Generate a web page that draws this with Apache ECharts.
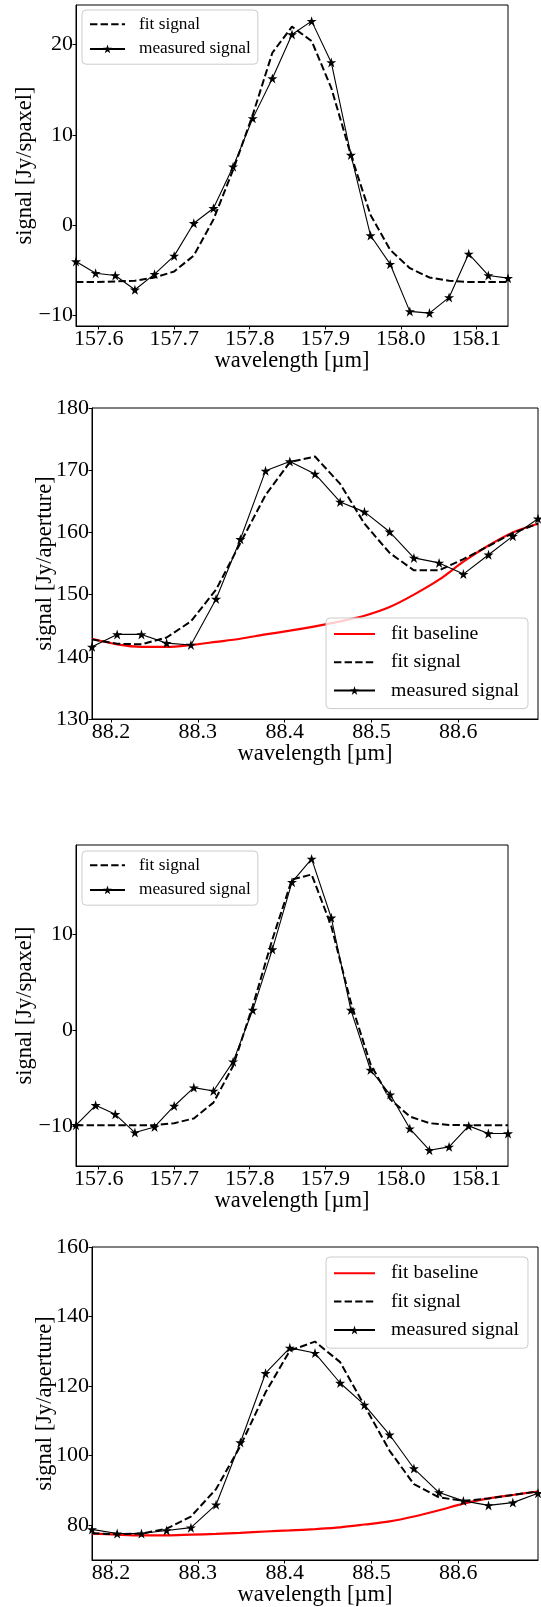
<!DOCTYPE html>
<html>
<head>
<meta charset="utf-8">
<script src="https://cdn.jsdelivr.net/npm/echarts@6/dist/echarts.min.js"></script>
<style>
html,body{margin:0;padding:0;background:#fff;}
#chart{width:541px;height:1607px;}
</style>
</head>
<body>
<div id="chart"></div>
<script>
// ---- data ----
const waveA = [157.570, 157.596, 157.622, 157.648, 157.674, 157.700, 157.726, 157.752, 157.778, 157.804, 157.830, 157.856, 157.882, 157.908, 157.934, 157.960, 157.986, 158.012, 158.038, 158.064, 158.090, 158.116, 158.142];
const waveB = [88.178, 88.207, 88.235, 88.264, 88.292, 88.321, 88.349, 88.378, 88.406, 88.435, 88.464, 88.492, 88.521, 88.549, 88.578, 88.606, 88.635, 88.663, 88.692];

const p1Measured = [-4.06, -5.36, -5.61, -7.20, -5.47, -3.44, 0.18, 1.85, 6.46, 11.82, 16.25, 21.13, 22.61, 18.03, 7.76, -1.18, -4.36, -9.60, -9.79, -8.05, -3.21, -5.61, -5.91];
const p1Fit = [-6.35, -6.35, -6.28, -6.20, -5.84, -5.17, -3.40, 0.60, 6.10, 12.20, 19.10, 22.00, 20.40, 15.20, 7.76, 1.10, -2.77, -4.80, -5.84, -6.20, -6.35, -6.35, -6.35];

const p2Baseline = [142.9, 142.0, 141.6, 141.6, 141.9, 142.4, 142.9, 143.6, 144.2, 144.9, 145.7, 146.6, 148.0, 150.0, 152.4, 155.3, 157.9, 160.0, 161.4];
const p2Fit = [142.8, 142.1, 142.0, 143.1, 145.7, 150.8, 158.3, 166.0, 171.3, 172.2, 167.8, 161.4, 156.7, 153.9, 153.9, 155.7, 157.8, 159.9, 161.4];
const p2Measured = [141.6, 143.6, 143.6, 142.2, 141.9, 149.3, 158.9, 169.9, 171.4, 169.4, 164.9, 163.3, 160.1, 155.9, 155.1, 153.3, 156.4, 159.4, 162.2];

const p3Measured = [-9.91, -7.83, -8.77, -10.68, -10.09, -7.90, -5.98, -6.33, -3.27, 2.12, 8.45, 15.48, 17.91, 11.76, 2.12, -4.14, -6.71, -10.26, -12.52, -12.17, -9.98, -10.78, -10.78];
const p3Fit = [-9.91, -9.91, -9.91, -9.91, -9.91, -9.70, -9.20, -7.55, -3.72, 2.54, 9.50, 15.76, 16.28, 10.89, 2.89, -3.55, -7.20, -9.00, -9.70, -9.88, -9.91, -9.91, -9.91];

const p4Baseline = [77.6, 77.3, 77.1, 77.1, 77.3, 77.5, 77.8, 78.2, 78.5, 78.9, 79.4, 80.2, 81.1, 82.5, 84.3, 86.2, 87.7, 88.7, 89.7];
const p4Fit = [77.7, 77.4, 77.6, 79.0, 82.5, 90.4, 102.8, 118.2, 130.2, 132.8, 126.9, 114.4, 101.4, 91.8, 88.0, 87.0, 87.7, 88.7, 89.7];
const p4Measured = [78.8, 77.6, 77.6, 78.5, 79.3, 85.9, 103.8, 123.7, 131.0, 129.5, 120.9, 114.6, 106.0, 96.3, 89.4, 87.0, 85.7, 86.5, 89.2];

const xTicksA = [157.6, 157.7, 157.8, 157.9, 158.0, 158.1];
const xTicksB = [88.2, 88.3, 88.4, 88.5, 88.6];
const yTicks1 = [-10, 0, 10, 20];
const yTicks2 = [130, 140, 150, 160, 170, 180];
const yTicks3 = [-10, 0, 10];
const yTicks4 = [80, 100, 120, 140, 160];

const xLabel = 'wavelength [µm]';
const yLabelSpaxel = 'signal [Jy/spaxel]';
const yLabelAperture = 'signal [Jy/aperture]';
const nameBaseline = 'fit baseline';
const nameFit = 'fit signal';
const nameMeasured = 'measured signal';

// ---- styling / layout ----
const FONT = '"Liberation Serif", "Times New Roman", serif';
const STAR = 'path://M50 0 L61.23 34.55 L97.55 34.55 L68.17 55.9 L79.39 90.45 L50 69.1 L20.61 90.45 L31.83 55.9 L2.45 34.55 L38.77 34.55 Z';
const fmtNum = (v) => (v < 0 ? '\u2212' + Math.abs(v) : String(v));

const grids = [
  {left: 76, top: 5, width: 432, height: 321},
  {left: 92, top: 408, width: 446, height: 311},
  {left: 76, top: 845, width: 432, height: 321},
  {left: 92, top: 1247, width: 446, height: 313}
].map(g => Object.assign({show: true, borderColor: '#000', borderWidth: 1, backgroundColor: 'transparent', containLabel: false, outerBoundsMode: 'none'}, g));

function mkX(gi, xs, ticks) {
  return {
    type: 'value', gridIndex: gi, min: Math.min(...xs), max: Math.max(...xs),
    axisLine: {show: true, onZero: false, lineStyle: {color: '#000', width: 1}},
    axisTick: {show: true, inside: false, length: 3.5, customValues: ticks, lineStyle: {color: '#000', width: 1}},
    axisLabel: {customValues: ticks, formatter: v => Number(v).toFixed(1), fontSize: 22, fontFamily: FONT, color: '#000', margin: 2},
    splitLine: {show: false},
    name: xLabel, nameLocation: 'middle', nameGap: 24, nameMoveOverlap: false,
    nameTextStyle: {fontSize: 22.5, fontFamily: FONT, color: '#000'}
  };
}
function mkY(gi, min, max, ticks, name, gap) {
  return {
    type: 'value', gridIndex: gi, min, max,
    axisLine: {show: true, onZero: false, lineStyle: {color: '#000', width: 1}},
    axisTick: {show: true, inside: false, length: 3.5, customValues: ticks, lineStyle: {color: '#000', width: 1}},
    axisLabel: {customValues: ticks, formatter: v => fmtNum(v), fontSize: 22, fontFamily: FONT, color: '#000', margin: 3},
    splitLine: {show: false},
    name, nameLocation: 'middle', nameRotate: 90, nameGap: gap, nameMoveOverlap: false,
    nameTextStyle: {fontSize: 22.5, fontFamily: FONT, color: '#000'}
  };
}

const pairs = (xs, ys) => xs.map((x, i) => [x, ys[i]]);

function sBaseline(gi, xs, ys) {
  return {type: 'line', name: nameBaseline, xAxisIndex: gi, yAxisIndex: gi, data: pairs(xs, ys),
    symbol: 'none', smooth: 0.3, lineStyle: {color: '#ff0000', width: 2.2}, itemStyle: {color: '#ff0000'}, z: 2, silent: true, animation: false};
}
function sFit(gi, xs, ys) {
  return {type: 'line', name: nameFit, xAxisIndex: gi, yAxisIndex: gi, data: pairs(xs, ys),
    symbol: 'none', lineStyle: {color: '#000', width: 2, type: [7.4, 3.2]}, itemStyle: {color: '#000'}, z: 3, silent: true, animation: false};
}
function sMeas(gi, xs, ys) {
  return {type: 'line', name: nameMeasured, xAxisIndex: gi, yAxisIndex: gi, data: pairs(xs, ys),
    symbol: STAR, symbolSize: 10, showAllSymbol: true, lineStyle: {color: '#000', width: 1.1}, itemStyle: {color: '#000'}, z: 4, silent: true, animation: false};
}

// legend items: lines without a marker hide the default marker
const legendItem = (n) => (n === nameMeasured ? {name: n} : {name: n, itemStyle: {opacity: 0}});

function mkLegend(names, left, top, fontSize, rowH, itemW, textPadL, pad) {
  return {
    orient: 'vertical', left, top, data: names.map(legendItem), padding: pad,
    itemWidth: itemW, itemHeight: 11, itemGap: 0,
    backgroundColor: 'rgba(255,255,255,0.8)', borderColor: '#cccccc', borderWidth: 1, borderRadius: 4,
    selectedMode: false,
    textStyle: {fontSize, fontFamily: FONT, color: '#000', lineHeight: rowH, padding: [0, 0, 0, textPadL]}
  };
}

const option = {
  animation: false,
  backgroundColor: '#fff',
  grid: grids,
  xAxis: [mkX(0, waveA, xTicksA), mkX(1, waveB, xTicksB), mkX(2, waveA, xTicksA), mkX(3, waveB, xTicksB)],
  yAxis: [
    mkY(0, -11.22, 24.4, yTicks1, yLabelSpaxel, 39.5),
    mkY(1, 130, 180, yTicks2, yLabelAperture, 35),
    mkY(2, -14.17, 19.36, yTicks3, yLabelSpaxel, 39.5),
    mkY(3, 70, 160, yTicks4, yLabelAperture, 35)
  ],
  legend: [
    mkLegend([nameFit, nameMeasured], 82, 10, 17.3, 24.6, 35, 9, [2, 7, 3, 7]),
    mkLegend([nameBaseline, nameFit, nameMeasured], 326, 618, 19.8, 28.2, 41, 11, [2, 9, 4, 7]),
    mkLegend([nameFit, nameMeasured], 82, 851, 17.3, 24.6, 35, 9, [2, 7, 3, 7]),
    mkLegend([nameBaseline, nameFit, nameMeasured], 326, 1257, 19.8, 28.4, 41, 11, [2, 9, 4, 7])
  ],
  series: [
    sFit(0, waveA, p1Fit), sMeas(0, waveA, p1Measured),
    sBaseline(1, waveB, p2Baseline), sFit(1, waveB, p2Fit), sMeas(1, waveB, p2Measured),
    sFit(2, waveA, p3Fit), sMeas(2, waveA, p3Measured),
    sBaseline(3, waveB, p4Baseline), sFit(3, waveB, p4Fit), sMeas(3, waveB, p4Measured)
  ]
};

const chart = echarts.init(document.getElementById('chart'), null, {renderer: 'canvas', width: 541, height: 1607});
chart.setOption(option);
</script>
</body>
</html>
